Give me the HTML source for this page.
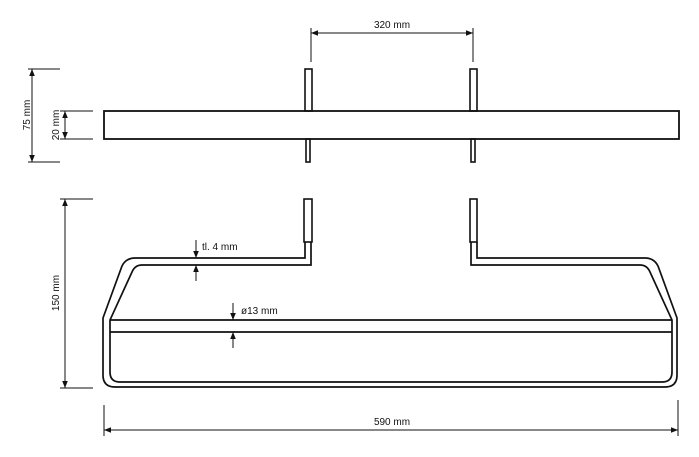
<!DOCTYPE html>
<html><head><meta charset="utf-8"><style>
html,body{margin:0;padding:0;background:#fff;}
svg{display:block}
text{font-family:"Liberation Sans",sans-serif;font-size:10px;fill:#111}
</style></head><body>
<svg width="699" height="457" viewBox="0 0 699 457" xmlns="http://www.w3.org/2000/svg">
<defs>
<marker id="a" viewBox="0 0 10 10" refX="10" refY="5" markerWidth="7" markerHeight="7" orient="auto-start-reverse" markerUnits="userSpaceOnUse"><path d="M0,1 L10,5 L0,9 z" fill="#111"/></marker>
</defs>
<g stroke="#111" fill="none" stroke-width="1">
<line x1="311" y1="28" x2="311" y2="62"/>
<line x1="473" y1="28" x2="473" y2="62"/>
<line x1="311" y1="33" x2="473" y2="33" marker-start="url(#a)" marker-end="url(#a)"/>
<rect x="104" y="111" width="575" height="28" stroke-width="1.8"/>
<rect x="305" y="69" width="7" height="42" stroke-width="1.6"/>
<rect x="470" y="69" width="7" height="42" stroke-width="1.6"/>
<rect x="306" y="139" width="4" height="23" stroke-width="1.6"/>
<rect x="471" y="139" width="4" height="23" stroke-width="1.6"/>
<line x1="28" y1="69" x2="60" y2="69"/>
<line x1="28" y1="162" x2="60" y2="162"/>
<line x1="32" y1="69" x2="32" y2="162" marker-start="url(#a)" marker-end="url(#a)"/>
<line x1="60" y1="111" x2="93" y2="111"/>
<line x1="60" y1="139" x2="93" y2="139"/>
<line x1="65" y1="111" x2="65" y2="139" marker-start="url(#a)" marker-end="url(#a)"/>
<rect x="304" y="199" width="8" height="43" stroke-width="1.6"/>
<rect x="470" y="199" width="7" height="43" stroke-width="1.6"/>
<path stroke-width="1.7" d="M305,242 V258 H135 Q126,258 122,266 L103,318 V375 Q103,387 115,387 H665 Q677,387 677,375 V318 L658,266 Q654,258 645,258 H477 V242"/>
<path stroke-width="1.7" d="M311,242 V265 H142 Q135,265 132,272 L110,320 V372 Q110,382 120,382 H662 Q672,382 672,372 V320 L650,272 Q647,265 640,265 H471 V242"/>
<line x1="110" y1="320" x2="672" y2="320" stroke-width="1.7"/>
<line x1="110" y1="332" x2="672" y2="332" stroke-width="1.7"/>
<line x1="60" y1="199" x2="93" y2="199"/>
<line x1="60" y1="388" x2="93" y2="388"/>
<line x1="65" y1="199" x2="65" y2="388" marker-start="url(#a)" marker-end="url(#a)"/>
<line x1="104" y1="405" x2="104" y2="436"/>
<line x1="678" y1="400" x2="678" y2="436"/>
<line x1="104" y1="430" x2="678" y2="430" marker-start="url(#a)" marker-end="url(#a)"/>
<line x1="196" y1="240" x2="196" y2="258" marker-end="url(#a)"/>
<line x1="196" y1="281" x2="196" y2="265" marker-end="url(#a)"/>
<line x1="233" y1="303" x2="233" y2="320" marker-end="url(#a)"/>
<line x1="233" y1="348" x2="233" y2="332" marker-end="url(#a)"/>
</g>
<text x="392" y="28" text-anchor="middle">320 mm</text>
<text x="392" y="425" text-anchor="middle">590 mm</text>
<text x="202" y="250">tl. 4 mm</text>
<text x="241" y="314">ø13 mm</text>
<text transform="translate(30,115) rotate(-90)" text-anchor="middle">75 mm</text>
<text transform="translate(59,125) rotate(-90)" text-anchor="middle">20 mm</text>
<text transform="translate(59,293) rotate(-90)" text-anchor="middle">150 mm</text>
</svg>
</body></html>
